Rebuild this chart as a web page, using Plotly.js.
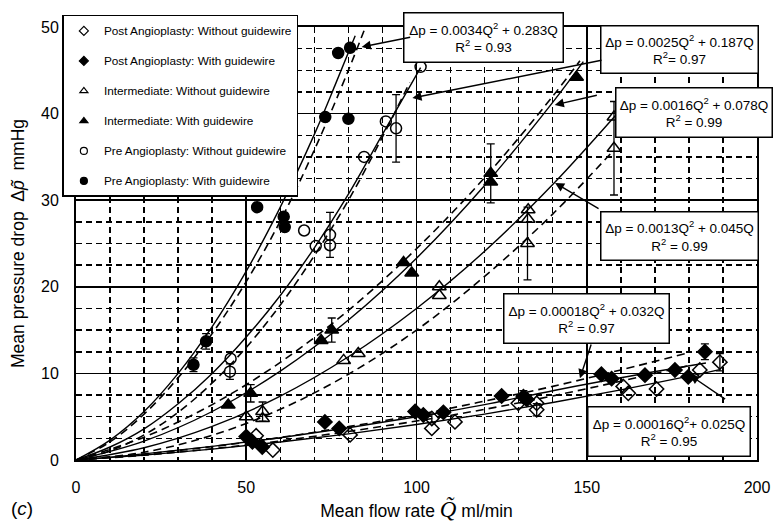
<!DOCTYPE html>
<html><head><meta charset="utf-8">
<script src="https://cdn.plot.ly/plotly-3.0.1.min.js"></script>
<style>html,body{margin:0;padding:0;background:#fff}#chart{width:774px;height:529px}</style>
</head><body><div id="chart"></div>
<script>
// ---------- legend names ----------
const seriesNames = [
  'Post Angioplasty: Without guidewire',
  'Post Angioplasty: With guidewire',
  'Intermediate: Without guidewire',
  'Intermediate: With guidewire',
  'Pre Angioplasty: Without guidewire',
  'Pre Angioplasty: With guidewire'
];
const seriesSymbols = ['diamond-open','diamond','triangle-up-open','triangle-up','circle-open','circle'];

// ---------- measured points (Q ml/min, dp mmHg, error) ----------
const postNoQ   = [52.9, 57.8, 80.5, 104.5, 104.5, 111.3, 129.9, 135.3, 135.3, 160.7, 162.2, 170.5, 183.2, 189.1];
const postNoP   = [2.8, 1.15, 2.9, 3.65, 4.8, 4.4, 6.55, 6.55, 5.8, 8.5, 7.7, 8.2, 10.4, 11.3];
const postNoErr = [NaN, NaN, NaN, NaN, 0.5, NaN, NaN, NaN, 0.7, NaN, NaN, NaN, NaN, 1.0];

const postGwQ   = [50, 51.8, 54.7, 73.1, 77.3, 99.6, 102, 107.9, 125, 131.4, 132.4, 154.3, 157.3, 167.1, 175.9, 179.8, 184.7];
const postGwP   = [2.7, 2.1, 1.5, 4.4, 3.65, 5.6, 5.2, 5.5, 7.4, 7.3, 7.0, 9.9, 9.4, 9.8, 10.4, 9.6, 12.5];
const postGwErr = [NaN, NaN, NaN, NaN, NaN, NaN, NaN, NaN, NaN, 0.7, NaN, NaN, NaN, NaN, NaN, NaN, 0.9];

const interNoQ   = [50, 54.8, 54.8, 78.6, 82.9, 106.7, 106.7, 132.8, 132.8, 132.6, 158, 158];
const interNoP   = [5.0, 5.6, 4.8, 11.5, 12.3, 20.0, 19.0, 28.9, 27.8, 25.0, 39.6, 36.0];
const interNoErr = [NaN, 1.1, NaN, NaN, NaN, NaN, NaN, NaN, NaN, 4.2, NaN, 5.4];

const interGwQ   = [44.7, 51.3, 72, 75.1, 96.2, 98.6, 121.8, 121.8, 147];
const interGwP   = [6.35, 7.7, 13.8, 15.0, 22.8, 21.6, 33.1, 32.1, 44.2];
const interGwErr = [NaN, 1.0, NaN, 1.4, NaN, NaN, 3.4, NaN, NaN];

const preNoQ   = [45.4, 45.2, 67.0, 70.4, 74.6, 74.6, 84.6, 91.0, 94.0, 101.2];
const preNoP   = [11.7, 10.2, 26.5, 24.7, 26.0, 24.8, 35.0, 39.1, 38.3, 45.4];
const preNoErr = [NaN, 0.9, NaN, NaN, 2.6, NaN, NaN, NaN, 3.9, NaN];

const preGwQ   = [34.5, 38.2, 53.2, 61.0, 61.3, 73.2, 80.0, 77.0, 80.5];
const preGwP   = [11.0, 13.7, 29.2, 28.1, 26.9, 39.6, 39.4, 47.0, 47.6];
const preGwErr = [0.8, 0.9, NaN, NaN, NaN, NaN, NaN, NaN, NaN];

// ---------- trend curves (solid = fit, dashed = second curve) ----------
const preGwFitQ   = [0, 10, 20, 30, 40, 50, 60, 70, 76, 82];
const preGwFitP   = [0, 2.3, 5.6, 10.0, 15.4, 21.8, 29.2, 37.6, 43.2, 49.0];
const preGwDashQ  = [0, 10, 20, 30, 40, 50, 60, 70, 80, 85];
const preGwDashP  = [0, 2.1, 5.3, 9.5, 14.6, 20.6, 27.6, 35.8, 45.0, 50.0];

const preNoFitQ   = [0, 10, 20, 30, 40, 50, 60, 70, 80, 90, 101.2];
const preNoFitP   = [0, 1.5, 3.6, 6.5, 10.0, 14.2, 19.0, 24.5, 30.7, 37.6, 45.3];
const preNoDashQ  = [0, 10, 20, 30, 40, 50, 60, 70, 80, 90, 98];
const preNoDashP  = [0, 1.06, 2.9, 5.5, 8.9, 13.0, 17.9, 23.6, 30.0, 37.3, 43.6];

const interGwFitQ  = [0, 20, 40, 60, 80, 100, 120, 140, 149];
const interGwFitP  = [0, 2.18, 5.6, 10.26, 16.16, 23.3, 31.7, 41.3, 46.0];
const interGwDashQ = [0, 20, 40, 60, 80, 100, 120, 140, 148];
const interGwDashP = [0, 2.64, 6.4, 11.28, 17.28, 24.4, 32.6, 42.0, 46.1];

const interNoFitQ  = [0, 20, 40, 60, 80, 100, 120, 140, 158.5];
const interNoFitP  = [0, 1.42, 3.88, 7.38, 11.92, 17.5, 24.1, 31.8, 39.8];
const interNoDashQ = [0, 20, 40, 60, 80, 100, 120, 140, 158];
const interNoDashP = [0, 0.9, 2.85, 5.85, 9.9, 15.0, 21.2, 28.4, 35.8];

const postGwFitQ  = [0, 20, 40, 60, 80, 100, 120, 140, 160, 185];
const postGwFitP  = [0, 0.71, 1.57, 2.57, 3.72, 5.0, 6.4, 8.0, 9.5, 11.2];
const postGwDashQ = [0, 20, 40, 60, 80, 100, 120, 140, 160, 180];
const postGwDashP = [0, 0.69, 1.55, 2.6, 3.85, 5.2, 6.8, 8.5, 10.4, 12.4];

const postNoFitQ  = [0, 20, 40, 60, 80, 100, 120, 140, 160, 180, 189];
const postNoFitP  = [0, 0.56, 1.26, 2.08, 3.02, 4.1, 5.3, 6.64, 8.1, 9.68, 10.44];
const postNoDashQ = [0, 20, 40, 60, 80, 100, 120, 140, 160, 180];
const postNoDashP = [0, 0.55, 1.3, 2.2, 3.3, 4.5, 5.85, 7.4, 9.1, 10.9];

// ---------- fit equations and arrow targets (Q, dp) ----------
const fitLabels = [
  '\u0394p = 0.0034Q<sup>2</sup> + 0.283Q<br>R<sup>2</sup> = 0.93',
  '\u0394p = 0.0025Q<sup>2</sup> + 0.187Q<br>R<sup>2</sup>= 0.97',
  '\u0394p = 0.0016Q<sup>2</sup> + 0.078Q<br>R<sup>2</sup> = 0.99',
  '\u0394p = 0.0013Q<sup>2</sup> + 0.045Q<br>R<sup>2</sup> = 0.99',
  '\u0394p = 0.00018Q<sup>2</sup> + 0.032Q<br>R<sup>2</sup> = 0.97',
  '\u0394p = 0.00016Q<sup>2</sup>+ 0.025Q<br>R<sup>2</sup> = 0.95'
];
const arrowTipQ = [83.9, 98.8, 140.6, 140.7, 148.0, 180.3];
const arrowTipP = [47.7, 41.8, 41.0, 32.0, 9.43, 9.8];

const xTicks = [0, 50, 100, 150, 200];
const yTicks = [0, 10, 20, 30, 40, 50];

// ---------- build traces ----------
const traces = [];
function curve(q, p, dashed) {
  traces.push({x: q, y: p, type: 'scatter', mode: 'lines', showlegend: false, hoverinfo: 'skip',
    line: {color: '#000', width: dashed ? 1.6 : 1.4, shape: 'spline', dash: dashed ? '8px,5px' : 'solid'}});
}
curve(preGwFitQ, preGwFitP, false);   curve(preGwDashQ, preGwDashP, true);
curve(preNoFitQ, preNoFitP, false);   curve(preNoDashQ, preNoDashP, true);
curve(interGwFitQ, interGwFitP, false); curve(interGwDashQ, interGwDashP, true);
curve(interNoFitQ, interNoFitP, false); curve(interNoDashQ, interNoDashP, true);
curve(postGwFitQ, postGwFitP, false); curve(postGwDashQ, postGwDashP, true);
curve(postNoFitQ, postNoFitP, false); curve(postNoDashQ, postNoDashP, true);

const pointSets = [
  [postNoQ, postNoP, postNoErr],
  [postGwQ, postGwP, postGwErr],
  [interNoQ, interNoP, interNoErr],
  [interGwQ, interGwP, interGwErr],
  [preNoQ, preNoP, preNoErr],
  [preGwQ, preGwP, preGwErr]
];
pointSets.forEach((s, i) => {
  const sym = seriesSymbols[i];
  const tri = sym.indexOf('triangle') === 0;
  traces.push({x: s[0], y: s[1], type: 'scatter', mode: 'markers', showlegend: false, name: seriesNames[i],
    marker: {symbol: sym, size: tri ? 12 : 11, color: '#000', line: {color: '#000', width: 1.5}},
    error_y: {type: 'data', array: s[2], visible: true, color: '#000', thickness: 1.3, width: 4}});
});
// legend entries
seriesNames.forEach((n, i) => {
  traces.push({x: [null], y: [null], type: 'scatter', mode: 'markers', name: n, legendgroup: 'g' + i,
    marker: {symbol: seriesSymbols[i], size: 7, color: '#000', line: {color: '#000', width: 1.2}}});
});

// ---------- annotations ----------
const boxPos = [[0.5991, 0.9769, 158, 48], [0.8855, 0.9469, 156, 46], [0.9082, 0.8014, 155, 48],
                [0.8855, 0.5162, 156, 47], [0.7489, 0.3279, 164, 48], [0.8715, 0.0647, 161, 48]];
const arrowOff = [[50, -10], [190.6, -38], [43.6, -10], [45, 26.7], [11.7, -35.3], [36.7, 25]];
const annotations = [];
fitLabels.forEach((t, i) => {
  annotations.push({xref: 'paper', yref: 'paper', x: boxPos[i][0], y: boxPos[i][1], xanchor: 'center', yanchor: 'middle',
    text: t, showarrow: false, width: boxPos[i][2], height: boxPos[i][3], align: 'center',
    bgcolor: '#fff', bordercolor: '#000', borderwidth: 1.5, borderpad: 0,
    font: {family: 'Liberation Sans, Arial, sans-serif', size: 13.5, color: '#000'}});
  annotations.push({xref: 'x', yref: 'y', x: arrowTipQ[i], y: arrowTipP[i], text: '', showarrow: true,
    ax: arrowOff[i][0], ay: arrowOff[i][1], arrowhead: 2, arrowsize: 1.3, arrowwidth: 1.4, arrowcolor: '#000'});
});
annotations.push({xref: 'paper', yref: 'paper', x: -0.079, y: -0.113, xanchor: 'center', yanchor: 'middle',
  text: '(<i>c</i>)', showarrow: false, font: {family: 'Liberation Sans, Arial, sans-serif', size: 19, color: '#000'}});

const axisFont = {family: 'Liberation Sans, Arial, sans-serif', size: 16, color: '#000'};
const titleFont = {family: 'Liberation Sans, Arial, sans-serif', size: 17.5, color: '#000'};
const layout = {
  width: 774, height: 529,
  margin: {l: 76, r: 17, t: 27, b: 69},
  paper_bgcolor: '#fff', plot_bgcolor: '#fff',
  showlegend: true,
  legend: {x: -0.02, y: 1.028, xanchor: 'left', yanchor: 'top', bgcolor: '#fff', bordercolor: '#000', borderwidth: 1.5,
    font: {family: 'Liberation Sans, Arial, sans-serif', size: 11.8, color: '#000'}, tracegroupgap: 11, traceorder: 'grouped'},
  xaxis: {range: [0, 200], tickmode: 'array', tickvals: xTicks, ticktext: xTicks.map(String), ticks: '',
    showgrid: true, gridcolor: '#000', gridwidth: 1.6, zeroline: false,
    showline: true, mirror: true, linecolor: '#000', linewidth: 2,
    minor: {tickmode: 'linear', tick0: 0, dtick: 10, showgrid: true, gridcolor: '#000', gridwidth: 1.5, griddash: '6px,4px'},
    tickfont: axisFont, ticklabelstandoff: 12,
    title: {text: 'Mean flow rate <span style="font-family:Liberation Serif;font-size:23px"><i>Q\u0303</i></span> ml/min',
      font: titleFont, standoff: 6}},
  yaxis: {range: [0, 50], tickmode: 'array', tickvals: yTicks, ticktext: yTicks.map(String), ticks: '',
    showgrid: true, gridcolor: '#000', gridwidth: 1.6, zeroline: false,
    showline: true, mirror: true, linecolor: '#000', linewidth: 2,
    minor: {tickmode: 'linear', tick0: 0, dtick: 2.5, showgrid: true, gridcolor: '#000', gridwidth: 1.5, griddash: '6px,4px'},
    tickfont: axisFont, ticklabelstandoff: 12,
    title: {text: 'Mean pressure drop  \u0394<i>p\u0303</i>  mmHg', font: titleFont, standoff: 12}},
  annotations: annotations
};
Plotly.newPlot('chart', traces, layout, {displayModeBar: false, staticPlot: true});
</script>
</body></html>
